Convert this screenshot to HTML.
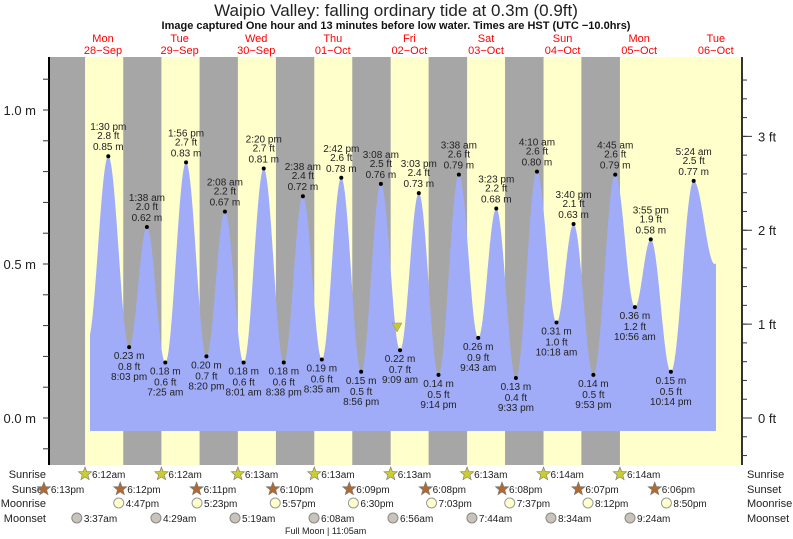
<!DOCTYPE html>
<html><head><meta charset="utf-8"><style>
body{margin:0;background:#fff;}
svg{display:block;font-family:"Liberation Sans",sans-serif;}
</style></head><body>
<svg id="s" width="793" height="539" xmlns="http://www.w3.org/2000/svg"></svg>
<script>
const S=document.getElementById('s');let h='';
const X0=65.3,D=76.4;const tx=t=>X0+t*D;const ym=m=>418-308*m;
const T=(d,hh,mm,pm)=>d+((hh%12)+(pm?12:0)+mm/60)/24;
h+='<rect x="49" y="57" width="692" height="408" fill="#ffffcc"/>';
const sr=[6.2,6.2,6.217,6.217,6.217,6.217,6.233,6.233,6.233];
const ss=[18.2,18.183,18.167,18.15,18.133,18.133,18.117,18.1];
h+='<rect x="49" y="57" width="'+(tx(sr[0]/24)-49)+'" height="408" fill="#a6a6a6"/>';
for(let d=0;d<7;d++){const a=tx(d+ss[d]/24),b=tx(d+1+sr[d+1]/24);h+=`<rect x="${a}" y="57" width="${b-a}" height="408" fill="#a6a6a6"/>`;}
const E=[[T(0,7,0,0),0.25],[T(0,1,30,1),.85,'1:30 pm'],[T(0,8,3,1),.23,'8:03 pm'],[T(1,1,38,0),.62,'1:38 am'],[T(1,7,25,0),.18,'7:25 am'],[T(1,1,56,1),.83,'1:56 pm'],[T(1,8,20,1),.20,'8:20 pm'],[T(2,2,8,0),.67,'2:08 am'],[T(2,8,1,0),.18,'8:01 am'],[T(2,2,20,1),.81,'2:20 pm'],[T(2,8,38,1),.18,'8:38 pm'],[T(3,2,38,0),.72,'2:38 am'],[T(3,8,35,0),.19,'8:35 am'],[T(3,2,42,1),.78,'2:42 pm'],[T(3,8,56,1),.15,'8:56 pm'],[T(4,3,8,0),.76,'3:08 am'],[T(4,9,9,0),.22,'9:09 am'],[T(4,3,3,1),.73,'3:03 pm'],[T(4,9,14,1),.14,'9:14 pm'],[T(5,3,38,0),.79,'3:38 am'],[T(5,9,43,0),.26,'9:43 am'],[T(5,3,23,1),.68,'3:23 pm'],[T(5,9,33,1),.13,'9:33 pm'],[T(6,4,10,0),.80,'4:10 am'],[T(6,10,18,0),.31,'10:18 am'],[T(6,3,40,1),.63,'3:40 pm'],[T(6,9,53,1),.14,'9:53 pm'],[T(7,4,45,0),.79,'4:45 am'],[T(7,10,56,0),.36,'10:56 am'],[T(7,3,55,1),.58,'3:55 pm'],[T(7,10,14,1),.15,'10:14 pm'],[T(8,5,24,0),.77,'5:24 am'],[T(8,12,0,1),.5]];
let p='M90 431';
for(let x=90;x<=716;x+=0.5){const t=(x-X0)/D;let i=0;while(i<E.length-2&&E[i+1][0]<t)i++;const a=E[i],b=E[i+1];const f=Math.max(0,(t-a[0])/(b[0]-a[0]));const v=a[1]+(b[1]-a[1])*(1-Math.cos(Math.PI*f))/2;p+=` L${x} ${ym(v).toFixed(1)}`;}
p+=' L716 431 Z';h+=`<path d="${p}" fill="#a0acf8"/>`;
E.forEach((e,i)=>{if(!e[2])return;const x=tx(e[0]),y=ym(e[1]);h+=`<circle cx="${x}" cy="${y}" r="2" fill="#000"/>`;const ft=(e[1]/0.3048).toFixed(1)+' ft',m=e[1].toFixed(2)+' m';const hi=e[1]>0.5;
const L=hi?[[e[2],y-26],[ft,y-17],[m,y-6]]:[[m,y+12],[ft,y+23],[e[2],y+33]];
L.forEach(l=>h+=`<text x="${x}" y="${l[1]}" font-size="10" text-anchor="middle" fill="#222">${l[0]}</text>`);});
h+='<polygon points="392,323 402,323 397,332" fill="#c8c832" stroke="#888" stroke-width="0.5"/>';
h+='<line x1="49" y1="57" x2="49" y2="465" stroke="#000" stroke-width="2"/><line x1="742" y1="57" x2="742" y2="465" stroke="#333" stroke-width="2"/>';
for(let m=-0.1;m<=1.2;m+=0.1){const y=ym(m);if(y<57||y>465)continue;h+=`<line x1="43" x2="49" y1="${y}" y2="${y}" stroke="#333"/>`;}
[[1,'1.0 m'],[0.5,'0.5 m'],[0,'0.0 m']].forEach(a=>h+=`<text x="36" y="${ym(a[0])+5}" font-size="13" text-anchor="end" fill="#222">${a[1]}</text>`);
for(let f=-0.4;f<=3.8;f+=0.2){const y=ym(f*0.3048);if(y<57||y>465)continue;h+=`<line x1="742" x2="747" y1="${y}" y2="${y}" stroke="#333"/>`;}
[0,1,2,3].forEach(f=>{const y=ym(f*0.3048);h+=`<line x1="742" x2="752" y1="${y}" y2="${y}" stroke="#333"/><text x="758" y="${y+5}" font-size="13" fill="#222">${f} ft</text>`;});
h+='<text x="396" y="16" font-size="17" text-anchor="middle" fill="#222">Waipio Valley: falling  ordinary tide at 0.3m (0.9ft)</text>';
h+='<text x="396" y="29" font-size="11" font-weight="bold" text-anchor="middle" fill="#111">Image captured One hour and 13 minutes before low water. Times are HST (UTC −10.0hrs)</text>';
const days=[['Mon','28−Sep'],['Tue','29−Sep'],['Wed','30−Sep'],['Thu','01−Oct'],['Fri','02−Oct'],['Sat','03−Oct'],['Sun','04−Oct'],['Mon','05−Oct'],['Tue','06−Oct']];
days.forEach((d,i)=>{const x=103+i*76.6;h+=`<text x="${x}" y="42" font-size="11" text-anchor="middle" fill="#f00">${d[0]}</text><text x="${x}" y="54" font-size="11" text-anchor="middle" fill="#f00">${d[1]}</text>`;});
[['Sunrise',478],['Sunset',493],['Moonrise',507],['Moonset',522]].forEach(r=>{h+=`<text x="46" y="${r[1]}" font-size="11" text-anchor="end" fill="#222">${r[0]}</text><text x="747" y="${r[1]}" font-size="11" fill="#222">${r[0]}</text>`;});
const star=(x,y,c)=>{let pts='';for(let k=0;k<10;k++){const r=k%2?3:7,a=-Math.PI/2+k*Math.PI/5;pts+=(x+r*Math.cos(a)).toFixed(1)+','+(y+r*Math.sin(a)).toFixed(1)+' ';}return `<polygon points="${pts}" fill="${c}" stroke="#777" stroke-width="0.6"/>`;};
const srl=['6:12am','6:12am','6:13am','6:13am','6:13am','6:13am','6:14am','6:14am'];
srl.forEach((s,i)=>{const x=tx(i+sr[i]/24);h+=star(x,474,'#cccc33')+`<text x="${x+7}" y="478" font-size="10" fill="#222">${s}</text>`;});
const ssl=[13,12,11,10,9,8,8,7,6];
ssl.forEach((s,i)=>{const x=tx(i-1+(18+s/60)/24)-3;h+=star(x,489,'#b06a30')+`<text x="${x+7}" y="493" font-size="10" fill="#222">6:${String(s).padStart(2,'0')}pm</text>`;});
const mr=[[1,16,47,'4:47pm'],[2,17,23,'5:23pm'],[3,17,57,'5:57pm'],[4,18,30,'6:30pm'],[5,19,3,'7:03pm'],[6,19,37,'7:37pm'],[7,20,12,'8:12pm'],[8,20,50,'8:50pm']];
mr.forEach(m=>{const x=tx(m[0]-1+(m[1]+m[2]/60)/24);h+=`<circle cx="${x}" cy="503" r="5" fill="#ffffcc" stroke="#999"/><text x="${x+7}" y="507" font-size="10" fill="#222">${m[3]}</text>`;});
const ms=[[0,3,37,'3:37am'],[1,4,29,'4:29am'],[2,5,19,'5:19am'],[3,6,8,'6:08am'],[4,6,56,'6:56am'],[5,7,44,'7:44am'],[6,8,34,'8:34am'],[7,9,24,'9:24am']];
ms.forEach(m=>{const x=tx(m[0]+(m[1]+m[2]/60)/24);h+=`<circle cx="${x}" cy="518" r="5" fill="#c8c4bc" stroke="#888"/><text x="${x+7}" y="522" font-size="10" fill="#222">${m[3]}</text>`;});
h+='<text x="285" y="534" font-size="9" fill="#222">Full Moon | 11:05am</text>';
S.innerHTML=h;
</script>
</body></html>
